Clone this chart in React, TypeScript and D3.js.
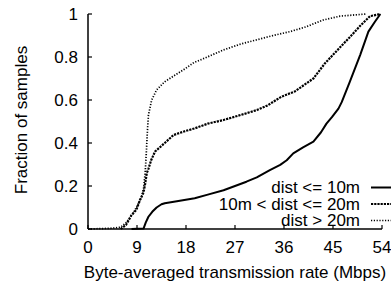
import React from "react";
import * as d3 from "d3";

const xTicks = [0, 9, 18, 27, 36, 45, 54];
const yTicks = [0, 0.2, 0.4, 0.6, 0.8, 1];

const near: [number, number][] = [
  [8, 0], [10.2, 0.002], [10.6, 0.03], [11.1, 0.057], [11.8, 0.08], [12.6, 0.1], [13.5, 0.115],
  [14.1, 0.12], [16.6, 0.13], [19.6, 0.143], [22, 0.16], [24.9, 0.18], [27, 0.2], [29.1, 0.22],
  [31, 0.24], [33.4, 0.274], [35.3, 0.298], [36.5, 0.32], [37.7, 0.352], [39.5, 0.38],
  [41.4, 0.406], [42.8, 0.45], [43.8, 0.49], [44.8, 0.52], [46, 0.56], [46.6, 0.59],
  [48.1, 0.685], [50, 0.81], [51.5, 0.918], [52.7, 0.964], [53.7, 1],
];

const mid: [number, number][] = [
  [6, 0], [7, 0.02], [8, 0.065], [8.9, 0.09], [9.55, 0.135], [10.2, 0.17], [10.5, 0.21],
  [10.8, 0.26], [11.1, 0.28], [11.6, 0.32], [12.3, 0.36], [14.1, 0.4], [15.7, 0.437],
  [17.8, 0.455], [19.6, 0.468], [22, 0.49], [24.9, 0.507], [28, 0.53], [31, 0.553],
  [33, 0.575], [35.5, 0.615], [38, 0.64], [41.4, 0.7], [43.5, 0.77], [46.3, 0.845],
  [48, 0.89], [50, 0.945], [51.8, 0.99], [53.7, 1],
];

const far: [number, number][] = [
  [0, 0], [4, 0.003], [6, 0.008], [7, 0.03], [8.3, 0.073], [9.3, 0.12], [9.85, 0.15],
  [10.2, 0.19], [10.5, 0.26], [10.7, 0.35], [10.9, 0.45], [11.1, 0.53], [11.7, 0.6],
  [12.6, 0.647], [14.1, 0.685], [16, 0.716], [17.8, 0.745], [19.5, 0.775], [21, 0.79],
  [24.9, 0.833], [28, 0.86], [31, 0.88], [34, 0.9], [37.1, 0.918], [40, 0.94],
  [43.2, 0.972], [46.3, 0.99], [51, 1],
];

const seriesNames = ["dist <= 10m", "10m < dist <= 20m", "dist > 20m"];

export default function App() {
  const W = 391, H = 286;
  const x = d3.scaleLinear().domain([0, 54]).range([88, 382]);
  const y = d3.scaleLinear().domain([0, 1]).range([229, 14]);
  const line = d3.line<[number, number]>().x(d => x(d[0])).y(d => y(d[1]));
  const font = "'Liberation Sans', Arial, Helvetica, sans-serif";
  const styles = [
    { data: near, w: 2, dash: undefined },
    { data: mid, w: 2.2, dash: "2.2 1" },
    { data: far, w: 1.7, dash: "1.2 1.6" },
  ];
  const legY = [187.5, 204, 220.5];
  return (
    <svg width={W} height={H} style={{ position: "absolute", left: 0, top: 0 }} fontFamily={font} fontSize={17}>
      <rect width={W} height={H} fill="#fff" />
      {styles.map((s, i) => (
        <path key={i} d={line(s.data) || ""} fill="none" stroke="#000" strokeWidth={s.w}
          strokeDasharray={s.dash} strokeLinejoin="round" />
      ))}
      <line x1={88} x2={88} y1={y(1)} y2={y(0)} stroke="#000" strokeWidth={1.5} />
      <line x1={88} x2={x(54)} y1={y(0)} y2={y(0)} stroke="#000" strokeWidth={1.5} />
      {yTicks.map(t => (
        <g key={t}>
          <line x1={88} x2={92} y1={y(t)} y2={y(t)} stroke="#000" strokeWidth={1.2} />
          <text x={78} y={y(t)} dy="0.35em" textAnchor="end">{t === 0 || t === 1 ? String(t) : t.toFixed(1)}</text>
        </g>
      ))}
      {xTicks.map(t => (
        <g key={t}>
          <line x1={x(t)} x2={x(t)} y1={y(0)} y2={y(0) - 4} stroke="#000" strokeWidth={1.2} />
          <text x={x(t)} y={253} textAnchor="middle">{t}</text>
        </g>
      ))}
      <text x={235} y={278} textAnchor="middle">Byte-averaged transmission rate (Mbps)</text>
      <text transform="rotate(-90)" x={-120} y={27} textAnchor="middle">Fraction of samples</text>
      {seriesNames.map((n, i) => (
        <g key={n}>
          <text x={360} y={legY[i]} dy="0.35em" textAnchor="end">{n}</text>
          <line x1={371} x2={391} y1={legY[i]} y2={legY[i]} stroke="#000" strokeWidth={styles[i].w}
            strokeDasharray={styles[i].dash} />
        </g>
      ))}
    </svg>
  );
}
